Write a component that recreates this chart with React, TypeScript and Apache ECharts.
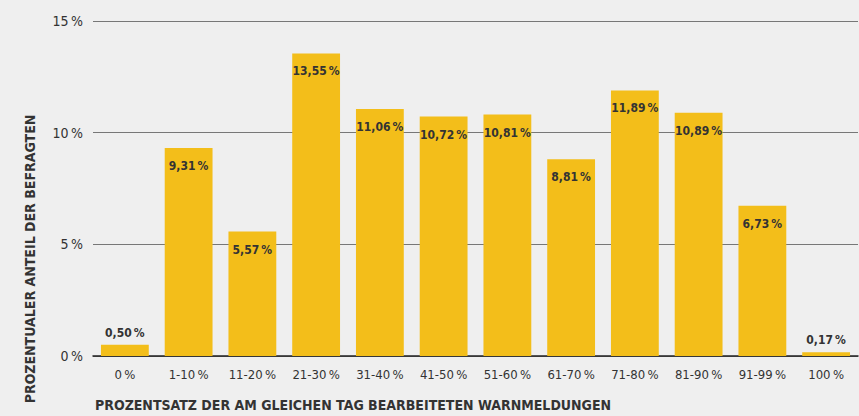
import React, { useEffect, useRef } from "react";
import * as echarts from "echarts";

const categories = ["0\u2009%", "1-10\u2009%", "11-20\u2009%", "21-30\u2009%", "31-40\u2009%", "41-50\u2009%", "51-60\u2009%", "61-70\u2009%", "71-80\u2009%", "81-90\u2009%", "91-99\u2009%", "100\u2009%"];
const values = [0.5, 9.31, 5.57, 13.55, 11.06, 10.72, 10.81, 8.81, 11.89, 10.89, 6.73, 0.17];
const xTitle = "PROZENTSATZ DER AM GLEICHEN TAG BEARBEITETEN WARNMELDUNGEN";
const yTitle = "PROZENTUALER ANTEIL DER BEFRAGTEN";

const FONT = "'DejaVu Sans Condensed', sans-serif";

export default function App() {
  const ref = useRef<HTMLDivElement>(null);
  useEffect(() => {
    const chart = echarts.init(ref.current!, undefined, { renderer: "svg" });
    chart.setOption({
      animation: false,
      backgroundColor: "#efefef",
      grid: { left: 93, right: 1, top: 21, bottom: 60 },
      xAxis: {
        type: "category",
        data: categories,
        axisLine: { lineStyle: { color: "#222", width: 1.5 } },
        axisTick: { show: false },
        axisLabel: { color: "#333", fontSize: 13, fontFamily: FONT, margin: 12, interval: 0 },
      },
      yAxis: {
        type: "value",
        min: 0,
        max: 15,
        interval: 5,
        axisLabel: { color: "#333", fontSize: 14, fontFamily: FONT, margin: 10, formatter: (v: number) => v + "\u2009%" },
        splitLine: { lineStyle: { color: "#777", width: 1 } },
        axisLine: { show: false },
        axisTick: { show: false },
      },
      series: [
        {
          type: "bar",
          barWidth: "75%",
          itemStyle: { color: "#f3be1a" },
          data: values.map((v) => ({
            value: v,
            label: {
              show: true,
              position: v < 2 ? "top" : "insideTop",
              distance: v < 2 ? 6 : 12,
              color: "#333",
              fontWeight: "bold",
              fontSize: 12,
              fontFamily: FONT,
              formatter: () => v.toFixed(2).replace(".", ",") + "\u2009%",
            },
          })),
        },
      ],
      graphic: [
        {
          type: "text",
          left: 95,
          top: 398,
          style: { text: xTitle, fill: "#333", font: `bold 14px ${FONT}` },
        },
        {
          type: "text",
          x: 30,
          y: 259,
          rotation: Math.PI / 2,
          style: { text: yTitle, fill: "#333", font: `bold 14px ${FONT}`, align: "center", verticalAlign: "middle" },
        },
      ],
    });
    return () => chart.dispose();
  }, []);
  return <div ref={ref} style={{ position: "fixed", left: 0, top: 0, width: 859, height: 416 }} />;
}
